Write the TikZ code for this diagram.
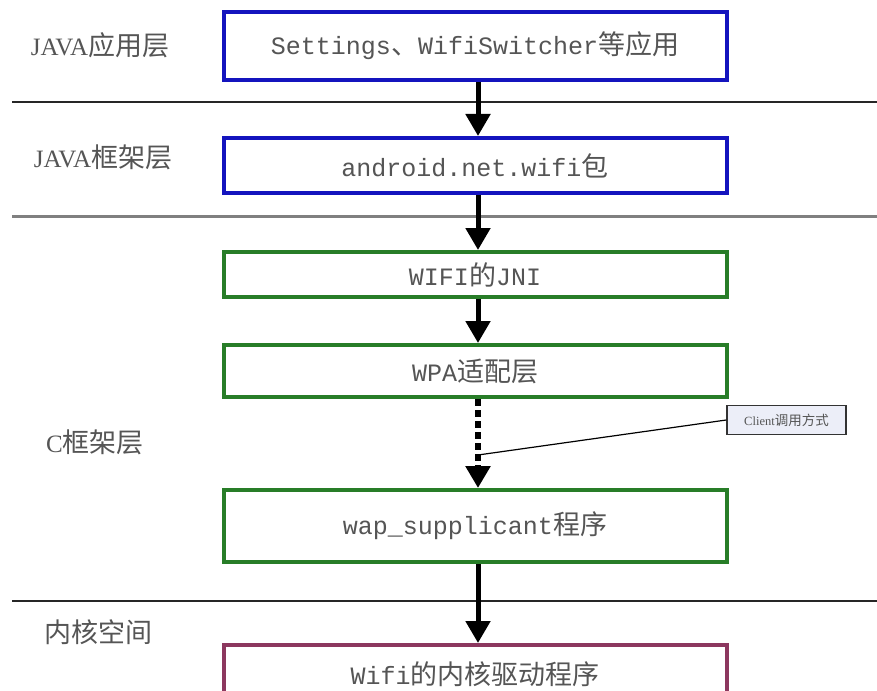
\documentclass[tikz,border=0pt]{standalone}
\usepackage{fontspec}
\setmainfont{Liberation Serif}
\newfontfamily\boxmono{Liberation Mono}
\newfontfamily\cjkfont{Noto Sans CJK SC}[Scale=1.08]
\newcommand\zh[1]{{\cjkfont #1}}
\usetikzlibrary{arrows.meta}

\definecolor{layerblue}{RGB}{20,20,190}
\definecolor{layergreen}{RGB}{40,125,40}
\definecolor{layermaroon}{RGB}{140,55,95}
\definecolor{txtgray}{RGB}{85,85,85}
\definecolor{notefill}{RGB}{236,238,248}

\tikzset{
  layerbox/.style={draw, line width=4pt, minimum width=503pt, inner sep=0pt,
    font=\boxmono\fontsize{25}{29}\selectfont, text=txtgray},
  bluebox/.style={layerbox, draw=layerblue},
  greenbox/.style={layerbox, draw=layergreen},
  maroonbox/.style={layerbox, draw=layermaroon},
  layerlabel/.style={font=\fontsize{25}{29}\selectfont, text=txtgray, inner sep=0pt},
  sepline/.style={line width=2pt, draw=black!85},
  flow/.style={line width=5pt, -{Triangle[width=24pt,length=22pt]}},
  dashflow/.style={line width=6pt, dash pattern=on 7pt off 4pt,
    -{Triangle[width=24pt,length=22pt]}},
  notebox/.style={draw=black!80, line width=1.5pt, fill=notefill,
    minimum width=119pt, minimum height=29pt, inner sep=0pt,
    font=\fontsize{12.5}{14}\selectfont, text=txtgray},
}

\begin{document}
\begin{tikzpicture}[x=1pt, y=-1pt]
  \clip (0,0) rectangle (877,690);
  \fill[white] (0,0) rectangle (877,690);

  % layer separators
  \draw[sepline] (12,102) -- (877,102);
  \draw[line width=3pt, draw=black!50] (12,216) -- (877,216);
  \draw[sepline] (12,601) -- (877,601);

  % layer names
  \node[layerlabel] (lapp)  at (100,45)  {JAVA\zh{应用层}};
  \node[layerlabel] (lfw)   at (103,157) {JAVA\zh{框架层}};
  \node[layerlabel] (lc)    at (95,442)  {C\zh{框架层}};
  \node[layerlabel] (lkern) at (98,632)  {\zh{内核空间}};

  % component boxes
  \node[bluebox, minimum height=68pt] (app) at (475,46)
    {Settings\zh{、}WifiSwitcher\zh{等应用}};
  \node[bluebox, minimum height=55pt] (fw) at (475,165.5)
    {android.net.wifi\zh{包}};
  \node[greenbox, minimum height=45pt] (jni) at (475,274.5)
    {WIFI\zh{的}JNI};
  \node[greenbox, minimum height=52pt] (wpa) at (475,371)
    {WPA\zh{适配层}};
  \node[greenbox, minimum height=72pt] (supp) at (475,526)
    {wap\_supplicant\zh{程序}};
  \node[maroonbox, minimum height=58pt] (drv) at (475,674)
    {Wifi\zh{的内核驱动程序}};

  % call flow
  \coordinate (ax) at (478,0);
  \draw[flow] (app.south -| ax) -- (fw.north -| ax);
  \draw[flow] (fw.south -| ax) -- (jni.north -| ax);
  \draw[flow] (jni.south -| ax) -- (wpa.north -| ax);
  \draw[dashflow] (wpa.south -| ax) -- (supp.north -| ax);
  \draw[flow] (supp.south -| ax) -- (drv.north -| ax);

  % annotation of the client call
  \node[notebox] (note) at (786.5,420) {Client\zh{调用方式}};
  \coordinate (tap) at (478,455);
  \draw[line width=1.2pt] (tap) -- (note.west);
\end{tikzpicture}
\end{document}
